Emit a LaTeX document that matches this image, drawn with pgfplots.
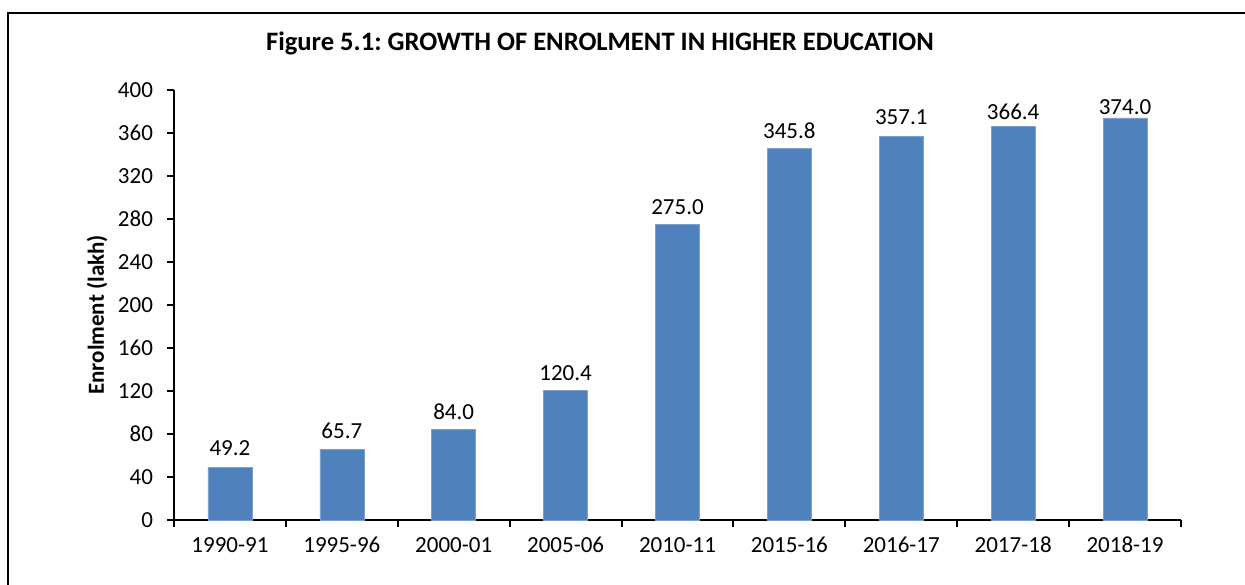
\documentclass[border=0pt]{standalone}
\usepackage{fontspec}
\setmainfont{Carlito}
\usepackage{pgfplots}
\usepackage{pgfplotstable}
\pgfplotsset{compat=1.18}
\definecolor{barcol}{HTML}{4F81BD}
\frenchspacing
\pgfplotstableread{
x y off
0 49.2 11
1 65.7 10
2 84.0 10
3 120.4 10
4 275.0 9
5 345.8 9
6 357.1 11
7 366.4 6
8 374.0 3
}\enrol
\begin{document}
\begin{tikzpicture}
\useasboundingbox (0,0) rectangle (622.5pt,-292pt);
\draw[line width=1pt] (4.2pt,-293pt) -- (4.2pt,-6.6pt) -- (623pt,-6.6pt);
\begin{axis}[
  at={(87pt,-260pt)}, anchor=south west,
  width=503.5pt, height=215pt, scale only axis,
  xmin=-0.5, xmax=8.5, ymin=0, ymax=400,
  ytick={0,40,...,400},
  xtick={-0.5,0.5,...,8.5}, xticklabel=\empty,
  extra x ticks={0,1,...,8},
  extra x tick labels={1990-91,1995-96,2000-01,2005-06,2010-11,2015-16,2016-17,2017-18,2018-19},
  extra x tick style={major tick length=0pt, tick style={draw=none}},
  axis lines*=left,
  axis line style={line width=1pt, black},
  tick style={line width=1pt, black},
  tick align=outside,
  major tick length=3.5pt,
  /pgf/number format/assume math mode=true,
  ticklabel style={font=\fontsize{11.5}{13}\selectfont},
  xticklabel style={yshift=-5pt},
  yticklabel style={xshift=-3.5pt},
  title={\bfseries Figure 5.1: GROWTH OF ENROLMENT IN HIGHER EDUCATION},
  title style={font=\fontsize{13.3}{15}\selectfont, at={(axis description cs:0.423,1.065)}, anchor=base},
  ylabel={\bfseries Enrolment (lakh)},
  ylabel style={font=\fontsize{11.5}{13}\selectfont, at={(axis description cs:-0.0765,0.477)}, anchor=center},
  clip=false,
]
\addplot[ybar, bar width=22pt, fill=barcol, draw=barcol!75!white, line width=0.3pt,
  nodes near coords={\pgfmathprintnumber[fixed,zerofill,precision=1]{\pgfplotspointmeta}},
  point meta=explicit,
  visualization depends on={\thisrow{off} \as \off},
  every node near coord/.append style={anchor=south, inner sep=0pt, yshift=\off*0.5pt, font=\fontsize{11.5}{13}\selectfont}
] table[x=x, y=y, meta=y] {\enrol};
\end{axis}
\end{tikzpicture}
\end{document}
